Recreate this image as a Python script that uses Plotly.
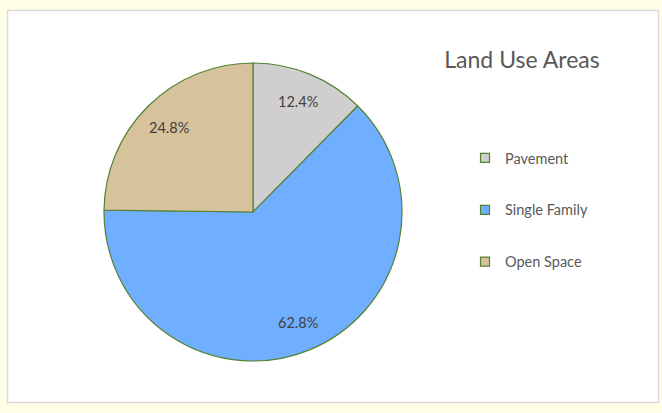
import math
import plotly.graph_objects as go

categories = ["Pavement", "Single Family", "Open Space"]
shares = [12.4, 62.8, 24.8]
colors = ["#D0CECE", "#70AEFF", "#D6C29B"]
outline = "#548235"
title_text = "Land Use Areas"

W, H = 662, 413
cx, cy, r = 253, 212, 149
label_r = 0.80
font_fam = "Lato, Open Sans, sans-serif"

fig = go.Figure()
fig.add_trace(go.Pie(
    labels=categories, values=shares, sort=False, direction="clockwise", rotation=0,
    marker=dict(colors=colors, line=dict(color=outline, width=1.2)),
    textinfo="none",
    domain=dict(x=[(cx - r) / W, (cx + r) / W], y=[(H - cy - r) / H, (H - cy + r) / H]),
    showlegend=False, hoverinfo="label+percent",
))

# data labels placed at the mid-angle of each slice (derived from the values)
total = sum(shares)
cum = 0.0
annotations = []
for v in shares:
    mid = (cum + v / 2) / total * 2 * math.pi
    cum += v
    px = cx + label_r * r * math.sin(mid)
    py = cy - label_r * r * math.cos(mid)
    annotations.append(dict(x=px / W, y=1 - py / H, xref="paper", yref="paper",
                            xanchor="center", yanchor="middle",
                            text=f"{v / total * 100:.1f}%", showarrow=False,
                            font=dict(family=font_fam, size=14.5, color="#404040")))

for i, (name, col) in enumerate(zip(categories, colors)):
    fig.add_trace(go.Scatter(
        x=[None], y=[None], mode="markers", name=name, legendgroup=f"g{i}",
        marker=dict(symbol="square", size=9, color=col, line=dict(color=outline, width=1.2)),
    ))

fig.update_layout(
    width=W, height=H, margin=dict(l=0, r=0, t=0, b=0),
    paper_bgcolor="#FFFFE6", plot_bgcolor="rgba(0,0,0,0)",
    xaxis=dict(visible=False), yaxis=dict(visible=False),
    font=dict(family=font_fam, color="#595959"),
    title=dict(text=title_text, x=522 / W, xanchor="center", y=1 - 60 / H, yanchor="middle",
               font=dict(size=23, color="#595959")),
    legend=dict(x=465 / W, y=1 - 142 / H, xanchor="left", yanchor="top",
                font=dict(size=14.5, color="#595959"), tracegroupgap=30,
                bgcolor="rgba(0,0,0,0)", itemwidth=30),
    annotations=annotations,
    shapes=[dict(type="rect", xref="paper", yref="paper",
                 x0=7.5 / W, x1=658.5 / W, y0=1 - 402.5 / H, y1=1 - 10.5 / H,
                 fillcolor="white", line=dict(color="#D9D9D9", width=1.5), layer="below")],
)
fig.write_html("out.html")
